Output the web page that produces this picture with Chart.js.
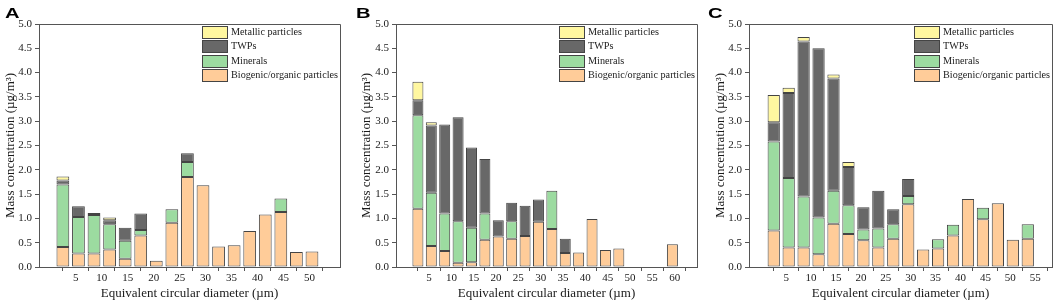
<!DOCTYPE html>
<html>
<head>
<meta charset="utf-8">
<script src="https://cdn.jsdelivr.net/npm/chart.js@4/dist/chart.umd.min.js"></script>
<style>
  body { margin: 0; background: #fff; }
  .panel { position: absolute; top: 0; height: 301px; }
  .tag { position: absolute; top: 4px; font: bold 15.5px "Liberation Sans", Arial, sans-serif; line-height: 17px;
         transform: scaleX(1.3); transform-origin: left top; color: #000; }
</style>
</head>
<body>
<div class="panel" style="left:0;width:350px"><canvas id="chartA" width="350" height="301"></canvas></div>
<div class="panel" style="left:350px;width:353px"><canvas id="chartB" width="353" height="301"></canvas></div>
<div class="panel" style="left:703px;width:356px"><canvas id="chartC" width="356" height="301"></canvas></div>
<div class="tag" style="left:5px">A</div>
<div class="tag" style="left:356px">B</div>
<div class="tag" style="left:708px">C</div>
<script>
// series names and colours
let seriesNames = ['Biogenic/organic particles', 'Minerals', 'TWPs', 'Metallic particles'];
let seriesColors = ['#FFCC99', '#9CDBA0', '#686868', '#FFF7A0'];

// panel A (bin centres in µm, values in µg/m3 per component)
let diamA = [2.5, 5.5, 8.5, 11.5, 14.5, 17.5, 20.5, 23.5, 26.5, 29.5, 32.5, 35.5, 38.5, 41.5, 44.5, 47.5, 50.5];
let bioA = [0.41, 0.28, 0.28, 0.36, 0.17, 0.65, 0.13, 0.91, 1.85, 1.68, 0.42, 0.45, 0.74, 1.08, 1.13, 0.31, 0.32];
let minA = [1.29, 0.75, 0.79, 0.52, 0.37, 0.11, null, 0.28, 0.31, null, null, null, null, null, 0.28, null, null];
let twpA = [0.08, 0.22, null, 0.08, 0.27, 0.34, null, null, 0.18, null, null, null, null, null, null, null, null];
let metA = [0.08, null, 0.04, 0.06, null, null, null, null, null, null, null, null, null, null, null, null, null];
let ticksA = [5, 10, 15, 20, 25, 30, 35, 40, 45, 50];

// panel B
let diamB = [2.5, 5.5, 8.5, 11.5, 14.5, 17.5, 20.5, 23.5, 26.5, 29.5, 32.5, 35.5, 38.5, 41.5, 44.5, 47.5, 59.5];
let bioB = [1.20, 0.43, 0.33, 0.09, 0.10, 0.56, 0.63, 0.58, 0.64, 0.93, 0.78, 0.29, 0.30, 0.99, 0.35, 0.38, 0.47];
let minB = [1.92, 1.10, 0.77, 0.85, 0.71, 0.54, null, 0.36, null, null, 0.79, null, null, null, null, null, null];
let twpB = [0.31, 1.38, 1.83, 2.14, 1.65, 1.12, 0.33, 0.38, 0.62, 0.46, null, 0.29, null, null, null, null, null];
let metB = [0.38, 0.07, null, null, null, null, null, null, null, null, null, null, null, null, null, null, null];
let ticksB = [5, 10, 15, 20, 25, 30, 35, 40, 45, 50, 55, 60];

// panel C
let diamC = [2.5, 5.5, 8.5, 11.5, 14.5, 17.5, 20.5, 23.5, 26.5, 29.5, 32.5, 35.5, 38.5, 41.5, 44.5, 47.5, 50.5, 53.5];
let bioC = [0.75, 0.40, 0.40, 0.26, 0.89, 0.68, 0.55, 0.40, 0.58, 1.29, 0.36, 0.38, 0.65, 1.40, 0.98, 1.31, 0.56, 0.58];
let minC = [1.83, 1.43, 1.05, 0.76, 0.68, 0.59, 0.22, 0.39, 0.30, 0.17, null, 0.19, 0.22, null, 0.24, null, null, 0.30];
let twpC = [0.40, 1.75, 3.19, 3.48, 2.31, 0.79, 0.46, 0.78, 0.31, 0.35, null, null, null, null, null, null, null, null];
let metC = [0.56, 0.11, 0.09, null, 0.08, 0.10, null, null, null, null, null, null, null, null, null, null, null, null];
let ticksC = [5, 10, 15, 20, 25, 30, 35, 40, 45, 50, 55];

let yTicks = [0, 0.5, 1, 1.5, 2, 2.5, 3, 3.5, 4, 4.5, 5];

Chart.defaults.font.family = '"Liberation Serif", "Times New Roman", serif';
Chart.defaults.color = '#1a1a1a';

const axisColor = '#555';

// frame on top and right + legend inside plot
const framePlugin = {
  id: 'frame',
  afterDatasetsDraw(chart) {
    const { ctx, chartArea: a } = chart;
    ctx.save();
    ctx.strokeStyle = axisColor;
    ctx.lineWidth = 1;
    ctx.beginPath();
    ctx.moveTo(Math.round(a.left), Math.round(a.top) + 0.5);
    ctx.lineTo(Math.round(a.right) + 0.5, Math.round(a.top) + 0.5);
    ctx.lineTo(Math.round(a.right) + 0.5, Math.round(a.bottom));
    ctx.stroke();

    let ds = chart.data.datasets.slice().reverse();
    ctx.font = '10.2px "Liberation Serif"';
    ctx.textBaseline = 'middle';
    ds.forEach((d, i) => {
      let x = Math.round(a.right - 138), y = Math.round(a.top + 2 + i * 14.3);
      ctx.fillStyle = d.backgroundColor;
      ctx.fillRect(x, y, 25, 12);
      ctx.strokeStyle = '#444';
      ctx.strokeRect(x + 0.5, y + 0.5, 25, 12);
      ctx.fillStyle = '#1a1a1a';
      ctx.fillText(d.label, x + 29, y + 6.5);
    });
    ctx.restore();
  }
};

function makePanel(id, diam, series, ticks, xMin, xMax, pad, yWidth, titlePad) {
  new Chart(document.getElementById(id), {
    type: 'bar',
    data: {
      datasets: series.map((vals, i) => ({
        label: seriesNames[i],
        data: diam.map((x, j) => ({ x: x, y: vals[j] })),
        backgroundColor: seriesColors[i],
        borderColor: '#444',
        borderWidth: 1,
        borderSkipped: false,
        barPercentage: 0.82,
        categoryPercentage: 1
      }))
    },
    options: {
      responsive: false,
      animation: false,
      devicePixelRatio: 1,
      layout: { padding: pad },
      plugins: { legend: { display: false }, tooltip: { enabled: false } },
      scales: {
        x: {
          type: 'linear',
          min: xMin,
          max: xMax,
          stacked: true,
          grid: { drawOnChartArea: false, drawTicks: true, tickLength: 4, color: axisColor },
          border: { color: axisColor },
          ticks: { font: { size: 11 }, padding: 1, maxRotation: 0, autoSkip: false },
          afterBuildTicks: s => { s.ticks = ticks.map(v => ({ value: v })); },
          title: { display: true, text: 'Equivalent circular diameter (µm)', font: { size: 13 }, padding: 0 },
          afterFit: s => { s.height = 34; }
        },
        y: {
          min: 0,
          max: 5,
          stacked: true,
          grid: { drawOnChartArea: false, drawTicks: true, tickLength: 4, color: axisColor },
          border: { color: axisColor },
          ticks: { font: { size: 11 }, padding: 3, callback: v => v.toFixed(1) },
          afterBuildTicks: s => { s.ticks = yTicks.map(v => ({ value: v })); },
          title: { display: true, text: 'Mass concentration (µg/m³)', font: { size: 13 }, padding: { top: titlePad, bottom: 0 } },
          afterFit: s => { s.width = yWidth; }
        }
      }
    },
    plugins: [framePlugin]
  });
}

makePanel('chartA', diamA, [bioA, minA, twpA, metA], ticksA, 0.8, 53, { top: 24, right: 10, left: 0, bottom: 0 }, 39, 3);
makePanel('chartB', diamB, [bioB, minB, twpB, metB], ticksB, 0.4, 62.2, { top: 24, right: 6, left: 6, bottom: 0 }, 40, 3);
makePanel('chartC', diamC, [bioC, minC, twpC, metC], ticksC, 0.3, 55.6, { top: 24, right: 7, left: 7, bottom: 0 }, 39, 3);
</script>
</body>
</html>
